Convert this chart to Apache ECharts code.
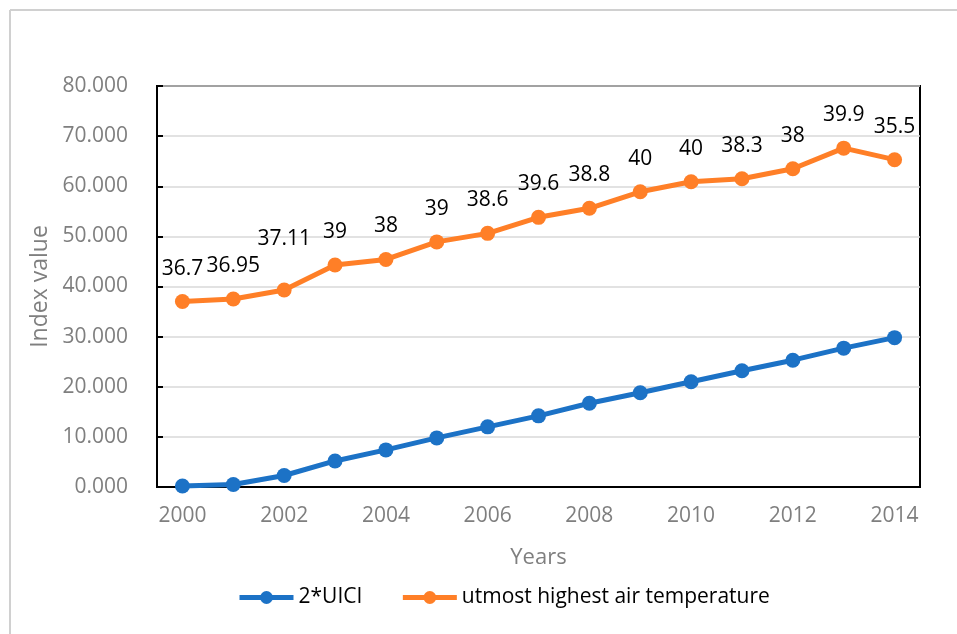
<!DOCTYPE html>
<html>
<head>
<meta charset="utf-8">
<script src="https://cdn.jsdelivr.net/npm/echarts@6/dist/echarts.min.js"></script>
<style>html,body{margin:0;padding:0;background:#fff}#c{width:957px;height:634px}</style>
</head>
<body>
<div id="c"></div>
<script>
const years = ['2000','2001','2002','2003','2004','2005','2006','2007','2008','2009','2010','2011','2012','2013','2014'];
const uici2 = [0.2, 0.5, 2.3, 5.2, 7.4, 9.8, 12.0, 14.2, 16.7, 18.8, 21.0, 23.2, 25.3, 27.7, 29.8];
const tempIndex = [37.0, 37.5, 39.3, 44.3, 45.4, 48.9, 50.6, 53.8, 55.6, 58.9, 60.9, 61.5, 63.5, 67.6, 65.3];
const tempLabels = ['36.7','36.95','37.11','39','38','39','38.6','39.6','38.8','40','40','38.3','38','39.9','35.5'];
const seriesNames = ['2*UICI', 'utmost highest air temperature'];

const FONT = 'Open Sans';
const chart = echarts.init(document.getElementById('c'), null, {renderer: 'canvas'});
const orangeData = tempIndex.map((v, i) => {
  const item = {value: v};
  if (i === 2) item.label = {offset: [0, -18]};
  return item;
});
chart.setOption({
  animation: false,
  textStyle: {fontFamily: FONT},
  graphic: [
    {type: 'line', shape: {x1: 10, y1: 10, x2: 957, y2: 10}, style: {stroke: '#d0d0d0', lineWidth: 2}},
    {type: 'line', shape: {x1: 10, y1: 10, x2: 10, y2: 634}, style: {stroke: '#d0d0d0', lineWidth: 2}}
  ],
  grid: {left: 157, top: 86, width: 763, height: 401, show: true, borderColor: '#000', borderWidth: 2, backgroundColor: 'transparent'},
  legend: {
    left: 232, top: 582,
    itemWidth: 54, itemHeight: 16, itemGap: 38,
    lineStyle: {width: 5},
    textStyle: {fontFamily: FONT, fontSize: 21, color: '#000'},
    data: seriesNames
  },
  xAxis: {
    type: 'category', data: years, boundaryGap: true,
    name: 'Years', nameLocation: 'middle', nameGap: 60,
    nameTextStyle: {fontFamily: FONT, fontSize: 22, color: '#7f7f7f'},
    axisLine: {lineStyle: {color: '#000', width: 2}},
    axisTick: {inside: true, length: 6, interval: 0, lineStyle: {color: '#000', width: 2}},
    axisLabel: {interval: 1, margin: 19, fontFamily: FONT, fontSize: 21, color: '#7f7f7f'},
    splitLine: {show: false}
  },
  yAxis: {
    type: 'value', min: 0, max: 80, interval: 10,
    name: 'Index value', nameLocation: 'middle', nameGap: 103, nameRotate: 90,
    nameTextStyle: {fontFamily: FONT, fontSize: 23, color: '#7f7f7f'},
    axisLine: {show: true, lineStyle: {color: '#000', width: 2}},
    axisTick: {show: true, inside: true, length: 6, lineStyle: {color: '#000', width: 2}},
    axisLabel: {margin: 29, fontFamily: FONT, fontSize: 21, color: '#7f7f7f', formatter: v => v.toFixed(3)},
    splitLine: {lineStyle: {color: '#d9d9d9', width: 1.5}}
  },
  series: [
    {
      name: seriesNames[0], type: 'line', data: uici2,
      symbol: 'circle', symbolSize: 15,
      lineStyle: {color: '#1C72C6', width: 5},
      itemStyle: {color: '#1C72C6'}
    },
    {
      name: seriesNames[1], type: 'line', data: orangeData,
      symbol: 'circle', symbolSize: 15,
      lineStyle: {color: '#FF7F27', width: 5},
      itemStyle: {color: '#FF7F27'},
      label: {
        show: true, position: 'top', distance: 15,
        fontFamily: FONT, fontSize: 21, color: '#000',
        formatter: p => tempLabels[p.dataIndex]
      }
    }
  ]
});
</script>
</body>
</html>
